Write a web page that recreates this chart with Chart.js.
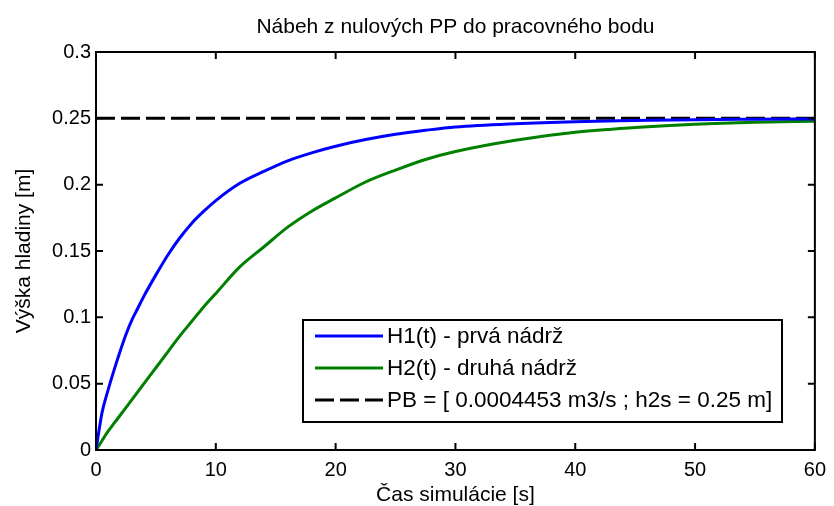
<!DOCTYPE html>
<html>
<head>
<meta charset="utf-8">
<script src="https://cdn.jsdelivr.net/npm/chart.js@4.4.0/dist/chart.umd.min.js"></script>
<style>
  html, body { margin: 0; padding: 0; background: #fff; }
</style>
</head>
<body>
<canvas id="myChart" width="834" height="506"></canvas>
<script>
// čas simulácie [s]
const time = [0, 0.5, 1, 1.5, 2, 2.5, 3, 3.5, 4, 5, 6, 7, 8, 9, 10, 12, 14, 16, 18, 20,
  22.5, 25, 27.5, 30, 35, 40, 45, 50, 55, 60];
// H1(t) - prvá nádrž
const h1 = [0, 0.028, 0.045, 0.060, 0.074, 0.087, 0.098, 0.107, 0.116, 0.132, 0.147, 0.160,
  0.171, 0.180, 0.188, 0.201, 0.210, 0.218, 0.224, 0.229, 0.234, 0.238, 0.241, 0.2435,
  0.246, 0.2475, 0.2483, 0.249, 0.2493, 0.2495];
// H2(t) - druhá nádrž
const h2 = [0, 0.007, 0.014, 0.020, 0.026, 0.032, 0.038, 0.044, 0.050, 0.062, 0.074, 0.086,
  0.097, 0.108, 0.118, 0.138, 0.153, 0.168, 0.180, 0.190, 0.202, 0.211, 0.219, 0.225,
  0.2335, 0.2395, 0.243, 0.2455, 0.247, 0.2478];
// pracovný bod
const pbTime = [0, 60];
const pbLevel = [0.25, 0.25];

const chartTitle = 'Nábeh z nulových PP do pracovného bodu';
const seriesLabels = [
  'H1(t) - prvá nádrž',
  'H2(t) - druhá nádrž',
  'PB = [ 0.0004453 m3/s ; h2s = 0.25 m]',
];
const xTicks = [0, 10, 20, 30, 40, 50, 60];
const yTicks = [0, 0.05, 0.1, 0.15, 0.2, 0.25, 0.3];
const yTickLabels = ['0', '0.05', '0.1', '0.15', '0.2', '0.25', '0.3'];

const FONT = "'Liberation Sans', Arial, Helvetica, sans-serif";

const toXY = (xs, ys) => xs.map((x, i) => ({ x, y: ys[i] }));

// matlab-like box with inward ticks on all sides, title centred over the axes
const boxAxes = {
  id: 'boxAxes',
  afterDatasetsDraw(chart) {
    const { ctx, chartArea: a, scales } = chart;
    const len = 7;
    ctx.save();
    ctx.strokeStyle = '#000';
    ctx.lineWidth = 2;
    ctx.beginPath();
    xTicks.forEach((v) => {
      const px = scales.x.getPixelForValue(v);
      ctx.moveTo(px, a.bottom); ctx.lineTo(px, a.bottom - len);
      ctx.moveTo(px, a.top); ctx.lineTo(px, a.top + len);
    });
    yTicks.forEach((v) => {
      const py = scales.y.getPixelForValue(v);
      ctx.moveTo(a.left, py); ctx.lineTo(a.left + len, py);
      ctx.moveTo(a.right, py); ctx.lineTo(a.right - len, py);
    });
    ctx.stroke();
    ctx.strokeRect(a.left, a.top, a.right - a.left, a.bottom - a.top);

    ctx.fillStyle = '#000';
    ctx.font = '21px ' + FONT;
    ctx.textAlign = 'center';
    ctx.textBaseline = 'alphabetic';
    ctx.fillText(chartTitle, (a.left + a.right) / 2, 33);
    ctx.restore();
  },
};

// legenda v pravom dolnom rohu
const boxLegend = {
  id: 'boxLegend',
  afterDraw(chart) {
    const { ctx } = chart;
    const bx = 303; const by = 320; const bw = 479; const bh = 102;
    ctx.save();
    ctx.fillStyle = '#fff';
    ctx.fillRect(bx, by, bw, bh);
    ctx.strokeStyle = '#000';
    ctx.lineWidth = 2;
    ctx.strokeRect(bx, by, bw, bh);
    const rows = [336, 368, 400];
    chart.data.datasets.forEach((ds, i) => {
      const y = rows[i];
      ctx.strokeStyle = ds.borderColor;
      ctx.lineWidth = ds.borderWidth;
      ctx.setLineDash(ds.borderDash || []);
      ctx.beginPath();
      ctx.moveTo(315, y);
      ctx.lineTo(383, y);
      ctx.stroke();
      ctx.setLineDash([]);
      ctx.fillStyle = '#000';
      ctx.font = '22.5px ' + FONT;
      ctx.textBaseline = 'middle';
      ctx.textAlign = 'left';
      ctx.fillText(ds.label, 387, y + 1);
    });
    ctx.restore();
  },
};

new Chart(document.getElementById('myChart'), {
  type: 'line',
  data: {
    datasets: [
      {
        label: seriesLabels[0],
        data: toXY(time, h1),
        borderColor: '#0000ff',
        borderWidth: 3,
        pointRadius: 0,
        cubicInterpolationMode: 'monotone',
      },
      {
        label: seriesLabels[1],
        data: toXY(time, h2),
        borderColor: '#008000',
        borderWidth: 3,
        pointRadius: 0,
        cubicInterpolationMode: 'monotone',
      },
      {
        label: seriesLabels[2],
        data: toXY(pbTime, pbLevel),
        borderColor: '#000000',
        borderWidth: 3,
        borderDash: [19, 6],
        pointRadius: 0,
      },
    ],
  },
  options: {
    responsive: false,
    animation: false,
    devicePixelRatio: 1,
    layout: { padding: { left: 0, right: 17, top: 52, bottom: 0 } },
    plugins: {
      legend: { display: false },
      tooltip: { enabled: false },
      title: { display: false },
    },
    scales: {
      x: {
        type: 'linear',
        min: 0,
        max: 60,
        grid: { display: false, drawTicks: false },
        border: { display: false },
        afterBuildTicks: (s) => { s.ticks = xTicks.map((v) => ({ value: v })); },
        afterFit: (s) => { s.height = 56; },
        ticks: {
          color: '#000',
          padding: 8,
          maxRotation: 0,
          font: { family: FONT, size: 20 },
          callback: (v) => String(v),
        },
        title: {
          display: true,
          text: 'Čas simulácie [s]',
          color: '#000',
          font: { family: FONT, size: 21, lineHeight: 1 },
          padding: { top: 0, bottom: 0 },
        },
      },
      y: {
        min: 0,
        max: 0.3,
        grid: { display: false, drawTicks: false },
        border: { display: false },
        afterBuildTicks: (s) => { s.ticks = yTicks.map((v) => ({ value: v })); },
        afterFit: (s) => { s.width = 96; },
        ticks: {
          color: '#000',
          padding: 5,
          font: { family: FONT, size: 20 },
          callback: (v) => yTickLabels[yTicks.indexOf(v)] ?? '',
        },
        title: {
          display: true,
          text: 'Výška hladiny [m]',
          color: '#000',
          font: { family: FONT, size: 21, lineHeight: 1 },
          padding: { top: 14, bottom: 0 },
        },
      },
    },
  },
  plugins: [boxAxes, boxLegend],
});
</script>
</body>
</html>
